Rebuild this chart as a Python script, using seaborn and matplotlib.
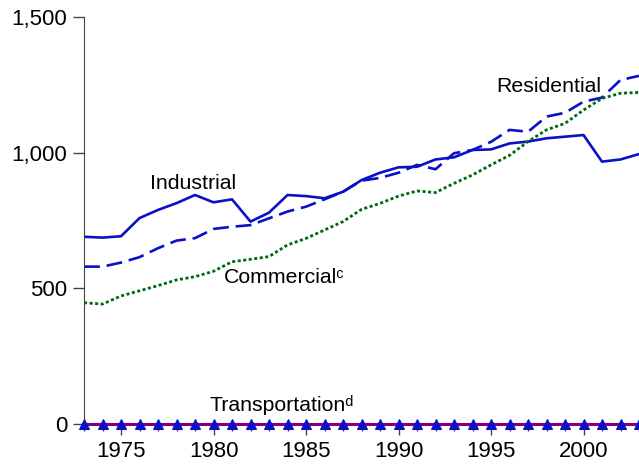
import numpy as np
import pandas as pd
import matplotlib
matplotlib.use("Agg")
import matplotlib.pyplot as plt
import seaborn as sns

sns.set_style("white")
plt.rcParams["font.family"] = ["Liberation Sans", "DejaVu Sans"]

years = list(range(1973, 2004))

industrial = [690, 687, 692, 759, 789, 814, 844, 817, 828, 746, 779, 844, 840, 832,
              856, 899, 926, 946, 948, 975, 983, 1010, 1012, 1034, 1041, 1053, 1059,
              1065, 967, 975, 995]
residential = [580, 580, 595, 615, 648, 676, 685, 719, 727, 733, 758, 783, 801, 828,
               856, 897, 907, 926, 955, 939, 998, 1010, 1040, 1084, 1077, 1133, 1147,
               1188, 1203, 1268, 1283]
commercial = [447, 442, 472, 491, 510, 531, 543, 563, 598, 607, 617, 660, 684, 715,
              746, 791, 813, 840, 859, 853, 887, 918, 955, 990, 1041, 1084, 1108,
              1157, 1200, 1219, 1222]
transportation = [1] * len(years)

df = pd.DataFrame({
    "year": years,
    "Industrial": industrial,
    "Residential": residential,
    "Commercial": commercial,
    "Transportation": transportation,
})

fig = plt.figure(figsize=(6.39, 4.66), dpi=100)
ax = fig.add_axes([0.1315, 0.0901, 0.8685, 0.8734])

blue = "#0a10c8"
sns.lineplot(data=df, x="year", y="Industrial", ax=ax, color=blue, lw=1.9)
sns.lineplot(data=df, x="year", y="Residential", ax=ax, color=blue, lw=1.9,
             linestyle=(0, (6, 2.6)))
sns.lineplot(data=df, x="year", y="Commercial", ax=ax, color="#006a10", lw=2.0,
             linestyle=(0, (1.1, 0.9)))
sns.lineplot(data=df, x="year", y="Transportation", ax=ax, color="#800080", lw=2.2,
             marker="^", markersize=7, markerfacecolor="#0a10c8",
             markeredgecolor="#0a10c8", clip_on=False, zorder=5)

ax.set_xlim(1973, 2003)
ax.set_ylim(0, 1500)
ax.set_xticks(range(1975, 2004, 5))
ax.set_xticks(range(1973, 2004), minor=True)
ax.set_yticks([0, 500, 1000, 1500])
ax.set_yticklabels(["0", "500", "1,000", "1,500"])
ax.set_xlabel("")
ax.set_ylabel("")
ax.tick_params(axis="both", which="major", labelsize=16, direction="out",
               length=8, width=1, color="#444444", labelcolor="black",
               bottom=True, left=True, pad=4)
ax.tick_params(axis="x", which="minor", direction="out", length=5, width=1,
               color="#444444", bottom=True)
for s in ["top", "right"]:
    ax.spines[s].set_visible(False)
ax.spines["left"].set_color("#444444")
ax.spines["bottom"].set_color("#444444")
ax.grid(False)

lab = dict(fontsize=15.3, ha="center", va="center", color="black")
ax.text(1978.9, 885, "Industrial", **lab)
ax.text(1998.1, 1245, "Residential", **lab)
ax.text(1983.8, 540, "Commercial\u1d9c", **lab)
ax.text(1983.7, 70, "Transportation\u1d48", **lab)

fig.savefig("out.png", dpi=100)
